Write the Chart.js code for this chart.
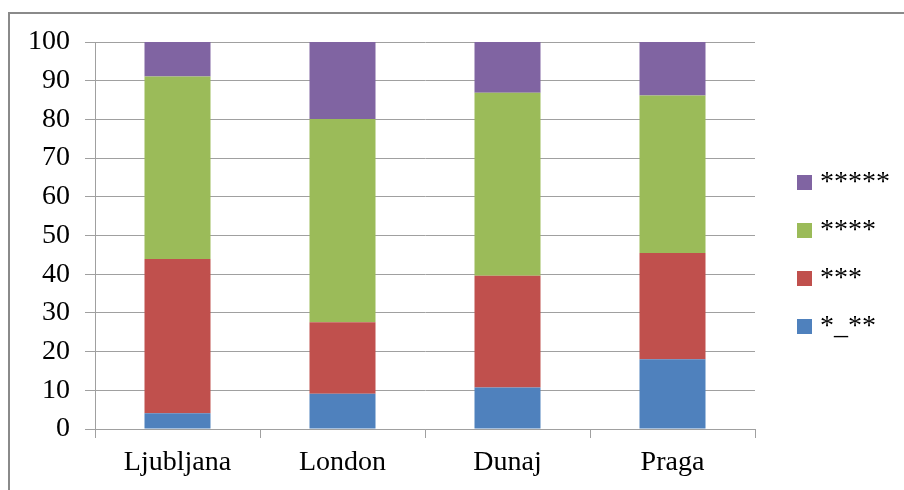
<!DOCTYPE html>
<html>
<head>
<meta charset="utf-8">
<script src="https://cdn.jsdelivr.net/npm/chart.js@4/dist/chart.umd.min.js"></script>
<style>
  html, body { margin: 0; padding: 0; background: #ffffff; }
  #wrap { width: 904px; height: 490px; position: relative; }
</style>
</head>
<body>
<div id="wrap"><canvas id="c" width="904" height="490"></canvas></div>
<script>
const categories = ['Ljubljana', 'London', 'Dunaj', 'Praga'];
const seriesNames = ['*_**', '***', '****', '*****'];
const s1 = [4.1, 9.1, 10.7, 18.0];     // *_**
const s2 = [39.8, 18.5, 28.9, 27.5];   // ***
const s3 = [47.2, 52.5, 47.3, 40.7];   // ****
const s4 = [8.9, 19.9, 13.1, 13.8];    // *****
const yTicks = [0, 10, 20, 30, 40, 50, 60, 70, 80, 90, 100];

const colors = ['#4F81BD', '#C0504D', '#9BBB59', '#8064A2'];
const FONT = "'Liberation Serif', 'Times New Roman', Times, serif";

const frame = {
  id: 'frame',
  beforeDraw(chart) {
    const ctx = chart.ctx;
    ctx.save();
    ctx.fillStyle = '#ffffff';
    ctx.fillRect(0, 0, chart.width, chart.height);
    ctx.strokeStyle = '#8a8a8a';
    ctx.lineWidth = 2;
    ctx.strokeRect(9, 13, chart.width + 20, chart.height + 20);
    ctx.restore();
  }
};

const legendPlugin = {
  id: 'sideLegend',
  afterDraw(chart) {
    const ctx = chart.ctx;
    const ds = chart.data.datasets.slice().reverse();
    ctx.save();
    ctx.font = '28px ' + FONT;
    ctx.textAlign = 'left';
    ctx.textBaseline = 'alphabetic';
    ds.forEach((d, i) => {
      const y = 175 + i * 48;
      ctx.fillStyle = d.backgroundColor;
      ctx.fillRect(797, y, 15, 15);
      ctx.fillStyle = '#000000';
      ctx.fillText(d.label, 820, y + 15);
    });
    ctx.restore();
  }
};

new Chart(document.getElementById('c'), {
  type: 'bar',
  data: {
    labels: categories,
    datasets: [
      { label: seriesNames[0], data: s1, backgroundColor: colors[0] },
      { label: seriesNames[1], data: s2, backgroundColor: colors[1] },
      { label: seriesNames[2], data: s3, backgroundColor: colors[2] },
      { label: seriesNames[3], data: s4, backgroundColor: colors[3] }
    ]
  },
  options: {
    responsive: false,
    animation: false,
    devicePixelRatio: 1,
    layout: { padding: { left: 0, top: 42, right: 149, bottom: 0 } },
    datasets: { bar: { categoryPercentage: 1.0, barPercentage: 0.4, borderWidth: 0 } },
    plugins: {
      legend: { display: false },
      tooltip: { enabled: false },
      title: { display: false }
    },
    scales: {
      x: {
        stacked: true,
        afterFit(scale) { scale.height = 61; },
        grid: {
          offset: true,
          drawOnChartArea: false,
          drawTicks: true,
          tickLength: 9,
          color: '#a0a0a0',
          lineWidth: 1
        },
        border: { display: true, color: '#a0a0a0', width: 1 },
        ticks: {
          color: '#000000',
          font: { family: FONT, size: 28 },
          padding: 8,
          maxRotation: 0
        }
      },
      y: {
        stacked: true,
        min: 0,
        max: 100,
        afterFit(scale) { scale.width = 95; },
        afterBuildTicks(scale) { scale.ticks = yTicks.map(v => ({ value: v })); },
        grid: {
          drawTicks: true,
          tickLength: 10,
          color: '#a0a0a0',
          lineWidth: 1
        },
        border: { display: true, color: '#a0a0a0', width: 1 },
        ticks: {
          color: '#000000',
          font: { family: FONT, size: 28 },
          padding: 15
        }
      }
    }
  },
  plugins: [frame, legendPlugin]
});
</script>
</body>
</html>
